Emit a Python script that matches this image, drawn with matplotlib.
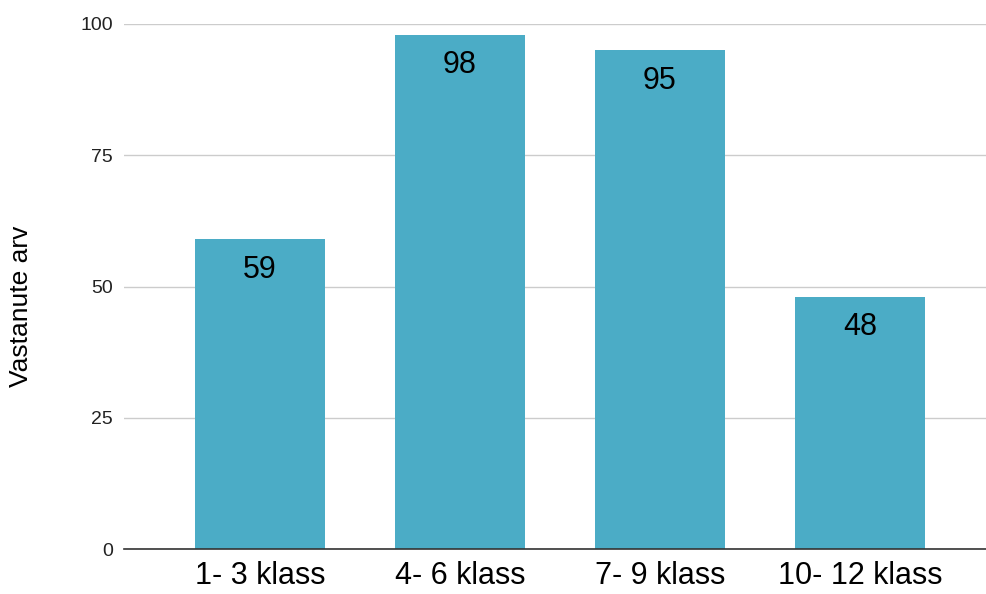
import matplotlib
matplotlib.use("Agg")
import matplotlib.pyplot as plt

categories = ["1- 3 klass", "4- 6 klass", "7- 9 klass", "10- 12 klass"]
values = [59, 98, 95, 48]
yticks = [0, 25, 50, 75, 100]
ylabel = "Vastanute arv"

plt.rcParams['font.family'] = ['Liberation Sans', 'DejaVu Sans']

fig = plt.figure(figsize=(9.87, 5.94), dpi=100)
ax = fig.add_axes([124/987, 45/594, 1 - 124/987, 525/594])

x = list(range(len(categories)))
bars = ax.bar(x, values, width=0.65, color="#4BACC6", zorder=3)

for xi, v in zip(x, values):
    ax.text(xi, v - 7.3, str(v), ha="center", va="baseline", fontsize=22, color="black", zorder=4)

ax.set_xlim(-0.68, 3.635)
ax.set_ylim(0, 100)
ax.set_yticks(yticks)
ax.set_yticklabels([str(t) for t in yticks], fontsize=14, color="#222222")
ax.set_xticks(x)
ax.set_xticklabels(categories, fontsize=22, color="black")
ax.tick_params(axis="both", length=0)
ax.tick_params(axis="y", pad=8)
ax.tick_params(axis="x", pad=9)

ax.grid(axis="y", color="#CCCCCC", linewidth=1, zorder=0)
for s in ["top", "right", "left"]:
    ax.spines[s].set_visible(False)
ax.spines["bottom"].set_color("#333333")
ax.spines["bottom"].set_linewidth(1.2)
ax.spines["bottom"].set_zorder(5)

fig.text(21/987, 1 - 306/594, ylabel, rotation=90, ha="center", va="center", fontsize=19, color="black")

fig.savefig("out.png", dpi=100)
